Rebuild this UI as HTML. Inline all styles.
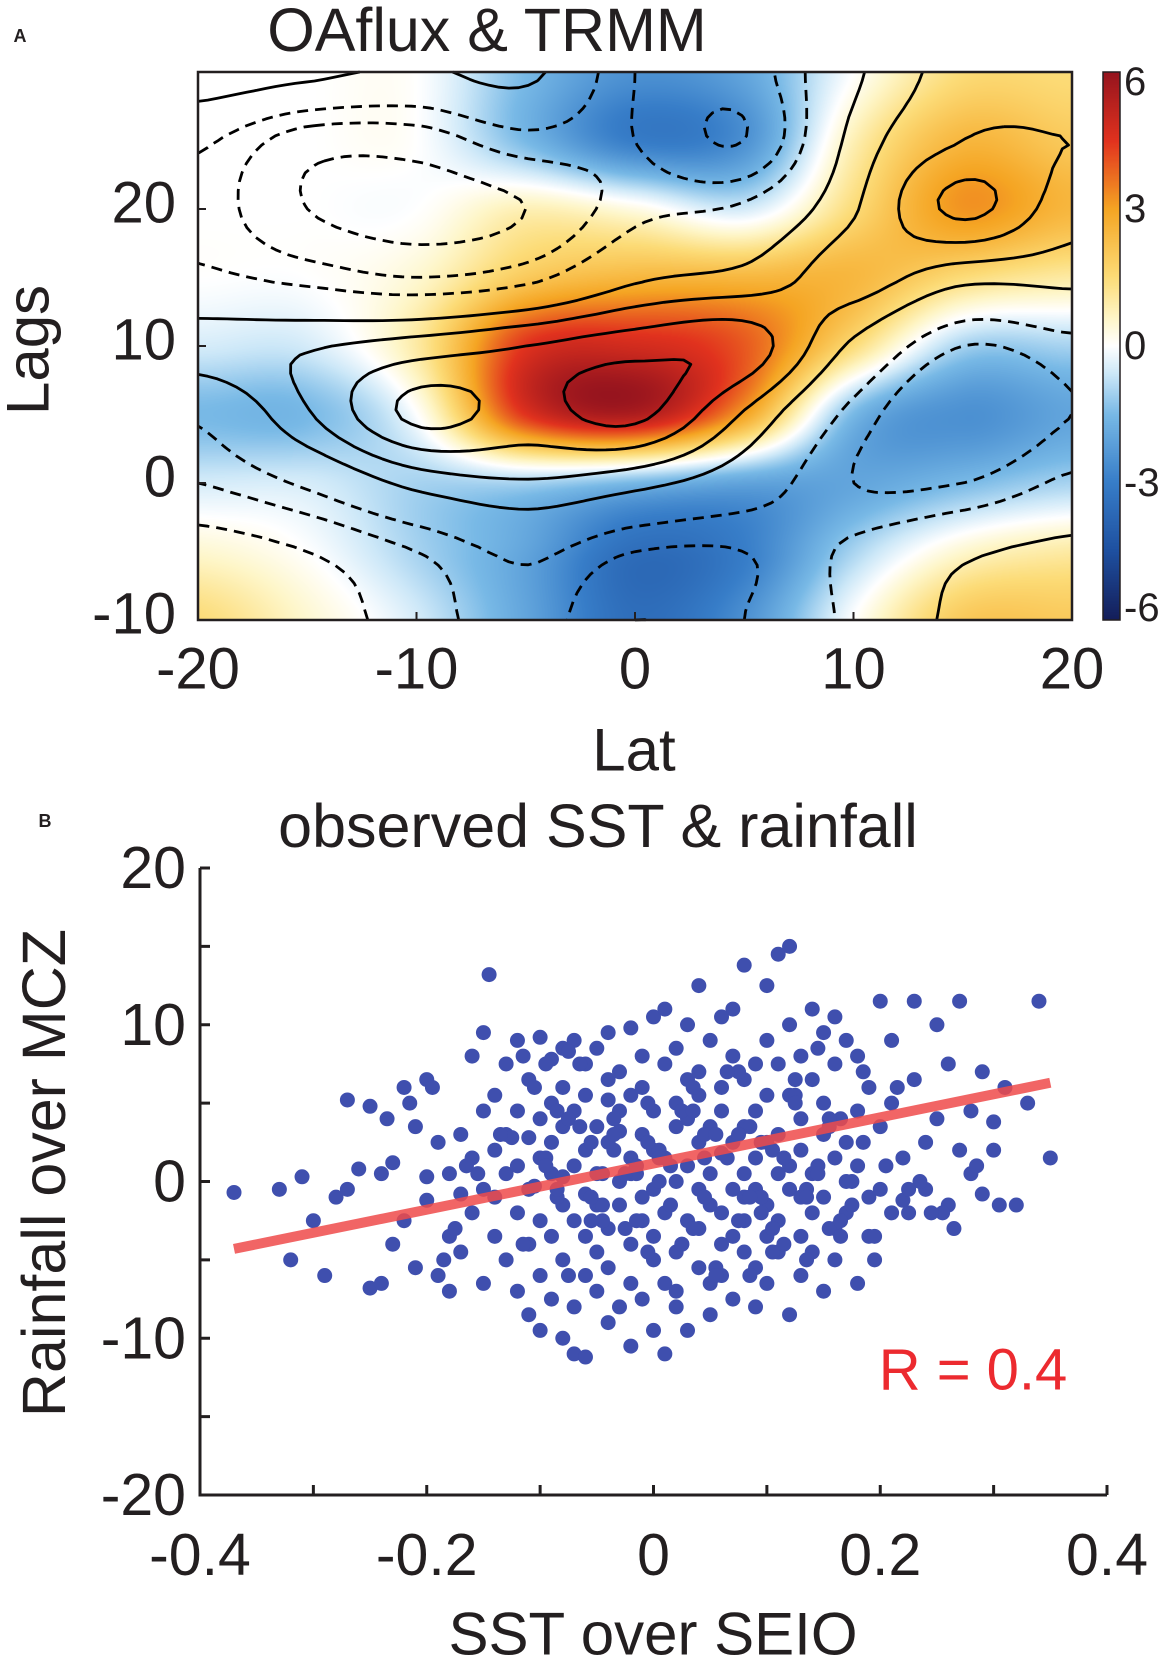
<!DOCTYPE html>
<html><head><meta charset="utf-8"><style>
html,body{margin:0;padding:0;background:#fff;}
body{width:1170px;height:1661px;position:relative;overflow:hidden;font-family:"Liberation Sans",sans-serif;color:#231f20;}
svg{position:absolute;left:0;top:0;}
</style></head><body>
<canvas id="heat" width="874" height="548" style="position:absolute;left:198px;top:72px;"></canvas>
<canvas id="cbar" width="17" height="548" style="position:absolute;left:1103px;top:72px;"></canvas>
<svg id="svg" width="1170" height="1661"></svg>
<script>
// ---------- Panel A data ----------
const lats=[-20,-15,-10,-5,0,5,10,15,20];
const lags=[30,25,20,15,10,5,0,-5,-10];
const sstField=[
[0,0,0,-1.5,-2.5,-2,0,1.5,1.5],
[0,0,0,-1.5,-3,-2.5,0.8,2.5,2],
[0,0,0,0.8,0.3,-0.5,1.5,3.2,2.5],
[0,0,0.5,2,2.5,2.5,2.5,1.5,1],
[-0.5,-0.5,1,4.5,4.8,4,1.5,-1,-1],
[-1.5,-1.5,0,4.5,5.5,3,-1.5,-2.5,-2],
[-0.5,-0.5,-1,-1,-1.5,-2,-2,-1.5,-1],
[0.5,0,-1,-2,-3.5,-3,-1,0.5,1],
[1.5,0.5,-0.5,-2,-3.5,-2.5,0,2,2]];
const rainField=[
[1.5,1,0.5,1,-1.5,-2,0.5,2,2],
[-0.5,-2,-2,-1,-1.5,-2.5,1,2.5,2.5],
[-1,-2.5,-3,-2.5,-1,-0.5,1.5,3.5,2],
[-0.5,-1,-1.5,-1,0.5,1,2,1,1],
[1.2,1.5,2,2.5,3,3,0.5,-1.5,-1],
[-0.5,1.5,3.5,3,3.5,1.5,-1,-2.5,-1.5],
[-1.5,-0.5,1,1.5,1,0,-1.5,-1.5,-0.5],
[-3,-2.5,-1.5,-0.5,-1.5,-1.5,-0.5,0.5,1],
[-3,-3,-2,-1,-2.5,-1.5,-0.5,1,1.5]];
const contourLevels=[-2.5,-1.5,-0.7,0.7,1.6,2.5,3.3];
const cbTicks=[6,3,0,-3,-6];
const aXTicks=[-20,-10,0,10,20];
const aYTicks=[20,10,0,-10];
// ---------- Panel B data ----------
const sstX=[-0.37,-0.33,-0.32,-0.31,-0.30,-0.29,-0.28,-0.27,-0.27,-0.26,-0.25,-0.25,-0.24,-0.24,-0.23,-0.23,-0.22,-0.22,-0.21,-0.21,-0.20,-0.20,-0.20,-0.19,-0.19,-0.18,-0.18,-0.18,-0.17,-0.17,-0.17,-0.16,-0.16,-0.16,-0.15,-0.15,-0.15,-0.15,-0.14,-0.14,-0.14,-0.14,-0.13,-0.13,-0.13,-0.13,-0.12,-0.12,-0.12,-0.12,-0.12,-0.11,-0.11,-0.11,-0.11,-0.11,-0.10,-0.10,-0.10,-0.10,-0.10,-0.10,-0.09,-0.09,-0.09,-0.09,-0.09,-0.09,-0.08,-0.08,-0.08,-0.08,-0.08,-0.08,-0.08,-0.07,-0.07,-0.07,-0.07,-0.07,-0.07,-0.06,-0.06,-0.06,-0.06,-0.06,-0.06,-0.06,-0.05,-0.05,-0.05,-0.05,-0.05,-0.05,-0.04,-0.04,-0.04,-0.04,-0.04,-0.04,-0.04,-0.03,-0.03,-0.03,-0.03,-0.03,-0.03,-0.02,-0.02,-0.02,-0.02,-0.02,-0.02,-0.02,-0.01,-0.01,-0.01,-0.01,-0.01,-0.01,0.00,0.00,0.00,0.00,0.00,0.00,0.00,0.01,0.01,0.01,0.01,0.01,0.01,0.02,0.02,0.02,0.02,0.02,0.02,0.02,0.03,0.03,0.03,0.03,0.03,0.03,0.04,0.04,0.04,0.04,0.04,0.04,0.04,0.05,0.05,0.05,0.05,0.05,0.05,0.06,0.06,0.06,0.06,0.06,0.06,0.06,0.07,0.07,0.07,0.07,0.07,0.07,0.08,0.08,0.08,0.08,0.08,0.08,0.08,0.09,0.09,0.09,0.09,0.09,0.09,0.10,0.10,0.10,0.10,0.10,0.10,0.10,0.11,0.11,0.11,0.11,0.11,0.11,0.12,0.12,0.12,0.12,0.12,0.12,0.13,0.13,0.13,0.13,0.13,0.13,0.14,0.14,0.14,0.14,0.14,0.15,0.15,0.15,0.15,0.15,0.16,0.16,0.16,0.16,0.16,0.17,0.17,0.17,0.17,0.18,0.18,0.18,0.18,0.19,0.19,0.19,0.20,0.20,0.20,0.21,0.21,0.21,0.22,0.22,0.23,0.23,0.24,0.24,0.25,0.25,0.26,0.26,0.27,0.27,0.28,0.28,0.29,0.29,0.30,0.30,0.31,0.32,0.33,0.34,0.35,
-0.145,-0.125,-0.115,-0.105,-0.095,-0.085,-0.075,-0.065,-0.055,-0.045,-0.035,-0.025,-0.015,-0.005,0.005,0.015,0.025,0.035,0.045,0.055,0.065,0.075,0.085,0.095,0.105,0.115,0.125,0.135,0.145,0.155,0.165,0.175,0.185,0.195,0.215,0.235,0.255,
-0.135,-0.115,-0.095,-0.085,-0.075,-0.055,-0.045,-0.035,-0.015,-0.005,0.005,0.025,0.035,0.045,0.055,0.075,0.085,0.095,0.105,0.125,0.135,0.145,0.155,0.165,0.185,0.205,0.225,
-0.105,-0.085,-0.065,-0.045,-0.025,-0.005,0.015,0.035,0.055,0.075,0.095,0.115,0.135,0.155,0.175,0.195,
-0.095,-0.075,-0.055,-0.035,-0.015,0.005,0.025,0.045,0.065,0.085,0.105,0.125,0.145,0.165,
-0.215,-0.195,-0.175,-0.155,-0.235,-0.185,-0.165,0.245,0.265,0.285,0.305,0.225];
const rainY=[-0.7,-0.5,-5,0.3,-2.5,-6,-1,5.2,-0.5,0.8,4.8,-6.8,0.5,-6.5,-4,1.2,6,-2.5,-5.5,3.5,0.3,-1.2,6.5,-6,2.5,-7,0.5,-3.5,3,-0.8,-4.5,8,1.5,-2,9.5,4.5,-0.5,-6.5,2,5.5,-3.5,-1,7.5,0.5,-5,3,9,-2,4.5,-7,1,2.8,-4,6.5,-0.5,-8.5,4,9.2,-2.5,1.5,-6,-9.5,5,0.5,-3.5,7.8,-7.5,2.5,-1.5,3.5,-10,6,-5,8.5,0.3,-8,4.5,-2.5,1,9,-11,-3.5,2,5.5,-6,7.5,-0.8,-11.2,3.5,-4.5,0.5,8.5,-7,-1.5,5.2,-9,2.5,9.5,-3,6.5,-5.5,0,3.2,-8,7,-1.5,4.5,-6.5,1.5,9.8,-4,-10.5,5.5,0.5,-2.5,8,-7.5,3,-1,6,-5,2,10.5,-3.5,-9.5,4.5,-0.5,7.5,-6.5,1.5,-11,11,-2,5,-8,3.5,0,8.5,-4.5,-7,6.5,1,-2.5,10,-9.5,4,-0.5,-5.5,7,2.5,-3,12.5,5.5,-6.5,0.5,-1.5,9,-8.5,3.5,-4,6,1.8,-2,10.5,-6,4.5,-0.5,8,-3.5,2.5,11,-7.5,-1,6.5,0.5,-4.5,3.5,13.8,-2.5,-8,7.5,1.5,-5.5,4.5,-0.5,12.5,-3.5,9,2.5,-6.5,5.5,-1.5,0.5,14.5,-4.5,7.5,3,-2.5,-8.5,10,1,-0.5,5.5,15,-3.5,8,2,-1,-6,4,11,-2,6.5,0.5,-4.5,9.5,3,-7,-1,5,10.5,1.5,-3,7.5,-5,2.5,9,0,-2,4.5,-6.5,8,1,-1,6,-3.5,11.5,3.5,-0.5,9,-2,5,1.5,-1.2,11.5,6.5,2.5,-0.5,10,4,-1.5,7.5,2,11.5,0.5,4.5,-0.8,7,2,3.8,6,-1.5,5,11.5,1.5,13.2,2.8,8,-0.3,7.5,4.5,8.3,7.5,
2.5,-2.5,4,-3,1,-4.5,2,-1.5,4.5,-3,3,-5.5,1.5,-2.5,3.5,-1,2,-4,5.5,-0.5,1,-3,4,-1.5,2.5,-5,6,0,-2,3,-4,1.5,-1,4,-2.5,0.5,2,
0.5,5,1.5,-4,6,-1,3,7,-6,2.5,-3,6.5,-1,0.5,3.5,-3.5,7,1,-2,6,-0.5,3.5,-1.5,0.5,2.5,1,4.5,
-6,3,-2,1.5,-5,4,0,-3.5,1,-6,-1,3,-2.5,0,-4,1.5,
7,-1,-4.5,5,8.5,-2.5,5,6,-3,0.5,4,-5,1,-2,
-3,1,-1.5,-0.5,-2.5,3,-7,1,6,3.5,-1,4.5];
const bXTicks=[-0.4,-0.2,0,0.2,0.4];
const bYTicks=[20,10,0,-10,-20];
const fitStart=[-0.37,-4.3], fitEnd=[0.35,6.3];

// ---------- helpers ----------
const NS="http://www.w3.org/2000/svg";
const svg=document.getElementById('svg');
function mk(tag,attrs,parent){const e=document.createElementNS(NS,tag);for(const k in attrs)e.setAttribute(k,attrs[k]);(parent||svg).appendChild(e);return e;}
function txt(s,x,y,size,anchor,name,extra){const e=mk('text',Object.assign({x:x,y:y,'font-size':size,'text-anchor':anchor||'middle','dominant-baseline':'central','font-family':'Liberation Sans, sans-serif',fill:'#231f20'},extra||{}));e.textContent=s;


return e;}

// ---------- Panel A ----------
const AX0=198,AX1=1072,AY0=72,AY1=620;
const ax=v=>AX0+(v+20)/40*(AX1-AX0);
const ay=v=>AY1-(v+10)/40*(AY1-AY0);
function cr(p0,p1,p2,p3,t){return 0.5*((2*p1)+(-p0+p2)*t+(2*p0-5*p1+4*p2-p3)*t*t+(-p0+3*p1-3*p2+p3)*t*t*t);}
function sample(F,lat,lag){
  const gx=(lat+20)/5, gy=(30-lag)/5;
  const ix=Math.floor(Math.min(gx,7.999)), iy=Math.floor(Math.min(gy,7.999));
  const tx=gx-ix, ty=gy-iy;
  const g=(r,c)=>F[Math.max(0,Math.min(8,r))][Math.max(0,Math.min(8,c))];
  const rows=[];
  for(let r=-1;r<=2;r++)rows.push(cr(g(iy+r,ix-1),g(iy+r,ix),g(iy+r,ix+1),g(iy+r,ix+2),tx));
  return cr(rows[0],rows[1],rows[2],rows[3],ty);
}
const stops=[[-6,[20,30,90]],[-4.5,[30,80,160]],[-3,[55,125,200]],[-1.5,[120,185,230]],[-0.6,[205,232,248]],[0,[255,255,255]],[0.6,[254,246,200]],[1.5,[252,220,120]],[3,[245,165,35]],[4.5,[225,50,30]],[6,[150,20,30]]];
function cmap(v){v=Math.max(-6,Math.min(6,v));for(let i=0;i<stops.length-1;i++){const a=stops[i],b=stops[i+1];if(v<=b[0]){const t=(v-a[0])/(b[0]-a[0]);return a[1].map((c,k)=>Math.round(c+(b[1][k]-c)*t));}}return stops[stops.length-1][1];}
(function(){const c=document.getElementById('heat'),x=c.getContext('2d'),W=c.width,H=c.height,img=x.createImageData(W,H);
for(let j=0;j<H;j++)for(let i=0;i<W;i++){const lat=-20+i/(W-1)*40,lag=30-j/(H-1)*40;const col=cmap(sample(sstField,lat,lag));const o=(j*W+i)*4;img.data[o]=col[0];img.data[o+1]=col[1];img.data[o+2]=col[2];img.data[o+3]=255;}
x.putImageData(img,0,0);
const cb=document.getElementById('cbar'),y=cb.getContext('2d');for(let j=0;j<cb.height;j++){const col=cmap(6-j/(cb.height-1)*12);y.fillStyle=`rgb(${col})`;y.fillRect(0,j,cb.width,1);}})();
// contours (marching squares with segment chaining)
(function(){const N=90,M=60;const grid=[];for(let j=0;j<=M;j++){grid.push([]);for(let i=0;i<=N;i++)grid[j].push(sample(rainField,-20+i/N*40,30-j/M*40));}
const px=i=>AX0+i/N*(AX1-AX0), py=j=>AY0+j/M*(AY1-AY0);
const g=mk('g',{});
contourLevels.forEach(L=>{
const segs=[];
for(let j=0;j<M;j++)for(let i=0;i<N;i++){const v=[grid[j][i],grid[j][i+1],grid[j+1][i+1],grid[j+1][i]];const p=[[i,j],[i+1,j],[i+1,j+1],[i,j+1]];const pts=[];
for(let k=0;k<4;k++){const a=v[k],b=v[(k+1)%4];if((a<L)!==(b<L)){const t=(L-a)/(b-a);const A=p[k],B=p[(k+1)%4];pts.push([px(A[0]+(B[0]-A[0])*t),py(A[1]+(B[1]-A[1])*t)]);}}
for(let k=0;k+1<pts.length;k+=2)segs.push([pts[k],pts[k+1]]);}
const key=p=>p[0].toFixed(2)+','+p[1].toFixed(2);
const map=new Map();segs.forEach((s,idx)=>{[0,1].forEach(e=>{const k=key(s[e]);if(!map.has(k))map.set(k,[]);map.get(k).push(idx);});});
const used=new Array(segs.length).fill(false);let d='';
for(let s=0;s<segs.length;s++){if(used[s])continue;used[s]=true;let line=[segs[s][0],segs[s][1]];
for(let dir=0;dir<2;dir++){let grow=true;while(grow){grow=false;const end=line[line.length-1];const cand=map.get(key(end))||[];for(const c of cand){if(used[c])continue;used[c]=true;const sg=segs[c];line.push(key(sg[0])===key(end)?sg[1]:sg[0]);grow=true;break;}}line.reverse();}
d+='M'+line.map(p=>p[0].toFixed(1)+' '+p[1].toFixed(1)).join('L');}
const e=mk('path',{d:d,fill:'none',stroke:'#000','stroke-width':2.8,'stroke-linejoin':'round','stroke-dasharray':L<0?'11 7':'none'},g);

});})();
const frameA=mk('rect',{x:AX0,y:AY0,width:AX1-AX0,height:AY1-AY0,fill:'none',stroke:'#231f20','stroke-width':2.5});

aXTicks.forEach(v=>{mk('line',{x1:ax(v),x2:ax(v),y1:AY1,y2:AY1-8,stroke:'#231f20','stroke-width':2});txt(String(v),ax(v),669,58,'middle','x-tick-label');});
aYTicks.forEach(v=>{mk('line',{x1:AX0,x2:AX0+8,y1:ay(v),y2:ay(v),stroke:'#231f20','stroke-width':2});txt(String(v),176,ay(v)-6,58,'end','y-tick-label');});
txt('Lat',634,750,60,'middle','x-axis-title');
txt('Lags',28,350,60,'middle','y-axis-title',{transform:'rotate(-90 28 350)'});
txt('OAflux & TRMM',487,30,61,'middle','panel-a-title');
txt('A',20,36,18,'middle','panel-a-label',{'font-weight':'bold'});
const cbf=mk('rect',{x:1103,y:72,width:17,height:548,fill:'none',stroke:'#231f20','stroke-width':1.5});

cbTicks.forEach(v=>{const y=72+(6-v)/12*548;txt(String(v),1124,Math.min(Math.max(y,82),608),40,'start','colorbar-tick-label');});

// ---------- Panel B ----------
const BX0=200,BX1=1107,BY0=868,BY1=1495;
const bx=v=>BX0+(v+0.4)/0.8*(BX1-BX0);
const by=v=>BY1-(v+20)/40*(BY1-BY0);
const pg=mk('g',{});
sstX.forEach((v,i)=>{const c=mk('circle',{cx:bx(v),cy:by(rainY[i]),r:7.5,fill:'#3f4fae'},pg);

});
const fl=mk('line',{x1:bx(fitStart[0]),y1:by(fitStart[1]),x2:bx(fitEnd[0]),y2:by(fitEnd[1]),stroke:'#ef4a4a','stroke-width':10,'stroke-opacity':0.85});

const axB=mk('path',{d:`M${BX0} ${BY0}V${BY1}H${BX1}`,fill:'none',stroke:'#231f20','stroke-width':3});

for(let k=-4;k<=4;k++){const x=bx(k/10);mk('line',{x1:x,x2:x,y1:BY1,y2:BY1-10,stroke:'#231f20','stroke-width':3});}
for(let k=-20;k<=20;k+=5){const y=by(k);mk('line',{x1:BX0,x2:BX0+10,y1:y,y2:y,stroke:'#231f20','stroke-width':3});}
bXTicks.forEach(v=>txt(String(v),bx(v),1555,59,'middle','x-tick-label'));
bYTicks.forEach(v=>txt(String(v),186,by(v),59,'end','y-tick-label'));
txt('SST over SEIO',653,1634,60,'middle','x-axis-title');
txt('Rainfall over MCZ',44,1173,61,'middle','y-axis-title',{transform:'rotate(-90 44 1173)'});
txt('observed SST & rainfall',598,826,61,'middle','panel-b-title');
txt('B',45,821,18,'middle','panel-b-label',{'font-weight':'bold'});
txt('R = 0.4',973,1370,58,'middle','correlation-label',{fill:'#ec2a2f'});
</script>
</body></html>
